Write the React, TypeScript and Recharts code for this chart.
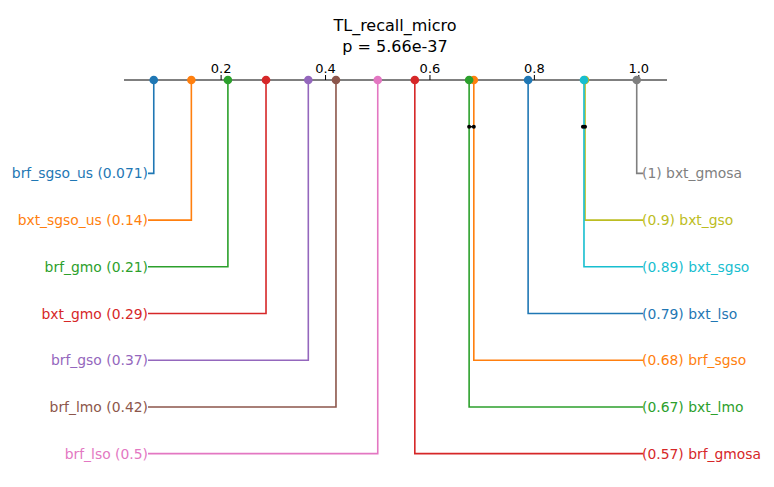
import { LineChart, Line, XAxis, YAxis } from "recharts";

const leftNames = ["brf_sgso_us", "bxt_sgso_us", "brf_gmo", "bxt_gmo", "brf_gso", "brf_lmo", "brf_lso"];
const leftShown = ["0.071", "0.14", "0.21", "0.29", "0.37", "0.42", "0.5"];
const leftValues = [0.071, 0.143, 0.213, 0.286, 0.367, 0.42, 0.5];
const leftColors = ["#1f77b4", "#ff7f0e", "#2ca02c", "#d62728", "#9467bd", "#8c564b", "#e377c2"];

const rightNames = ["bxt_gmosa", "bxt_gso", "bxt_sgso", "bxt_lso", "brf_sgso", "bxt_lmo", "brf_gmosa"];
const rightShown = ["1", "0.9", "0.89", "0.79", "0.68", "0.67", "0.57"];
const rightValues = [0.996, 0.897, 0.895, 0.788, 0.684, 0.675, 0.571];
const rightColors = ["#7f7f7f", "#bcbd22", "#17becf", "#1f77b4", "#ff7f0e", "#2ca02c", "#d62728"];

const cliques = [
  [0.675, 0.684],
  [0.893, 0.897],
];

const ticks = [0.2, 0.4, 0.6, 0.8, 1.0];
const LEFT_END = 0.06;
const RIGHT_END = 1.008;

const font = "DejaVu Sans, sans-serif";

const makeLabel = (text: string, color: string, side: "left" | "right") => (props: any) => {
  const { x, y, index } = props;
  if (index !== 2) return null;
  return (
    <text
      x={side === "left" ? x : x - 1}
      y={y}
      dy={5}
      textAnchor={side === "left" ? "end" : "start"}
      fill={color}
      fontSize={13.9}
      fontFamily={font}
    >
      {text}
    </text>
  );
};

const makeDot = (color: string) => (props: any) => {
  const { cx, cy, index } = props;
  if (index !== 0) return <g key={index} />;
  return <circle key={index} cx={cx} cy={cy} r={4.3} fill={color} />;
};

export default function App() {
  return (
    <div style={{ position: "absolute", left: 0, top: 0, width: 774, height: 487, background: "#fff", fontFamily: font }}>
      <div style={{ position: "absolute", top: 15, width: 790, textAlign: "center", fontSize: 16, lineHeight: "21px" }}>
        TL_recall_micro
        <br />p = 5.66e-37
      </div>
      <LineChart width={774} height={487} margin={{ top: 50, right: 107, bottom: 10, left: 124 }}>
        <XAxis
          xAxisId="x"
          dataKey="x"
          type="number"
          orientation="top"
          domain={[0.014, 1.054]}
          ticks={ticks}
          tickFormatter={(v: number) => v.toFixed(1)}
          height={30}
          tickSize={5}
          stroke="#000"
          tick={{ fill: "#000", fontSize: 13, fontFamily: font }}
          allowDataOverflow
        />
        <YAxis yAxisId="y" dataKey="y" type="number" domain={[0, 8.5]} reversed hide />
        {leftValues.map((v, i) => (
          <Line
            key={"l" + i}
            xAxisId="x"
            yAxisId="y"
            data={[{ x: v, y: 0 }, { x: v, y: i + 2 }, { x: LEFT_END, y: i + 2 }]}
            dataKey="y"
            stroke={leftColors[i]}
            strokeWidth={1.6}
            dot={makeDot(leftColors[i])}
            activeDot={false}
            label={makeLabel(`${leftNames[i]} (${leftShown[i]})`, leftColors[i], "left")}
            isAnimationActive={false}
          />
        ))}
        {rightValues.map((v, i) => (
          <Line
            key={"r" + i}
            xAxisId="x"
            yAxisId="y"
            data={[{ x: v, y: 0 }, { x: v, y: i + 2 }, { x: RIGHT_END, y: i + 2 }]}
            dataKey="y"
            stroke={rightColors[i]}
            strokeWidth={1.6}
            dot={makeDot(rightColors[i])}
            activeDot={false}
            label={makeLabel(`(${rightShown[i]}) ${rightNames[i]}`, rightColors[i], "right")}
            isAnimationActive={false}
          />
        ))}
        {cliques.map((c, i) => (
          <Line
            key={"c" + i}
            xAxisId="x"
            yAxisId="y"
            data={c.map((v) => ({ x: v, y: 1 }))}
            dataKey="y"
            stroke="#000"
            strokeWidth={1.5}
            dot={{ r: 2, fill: "#000", stroke: "none" }}
            activeDot={false}
            isAnimationActive={false}
          />
        ))}
      </LineChart>
    </div>
  );
}
